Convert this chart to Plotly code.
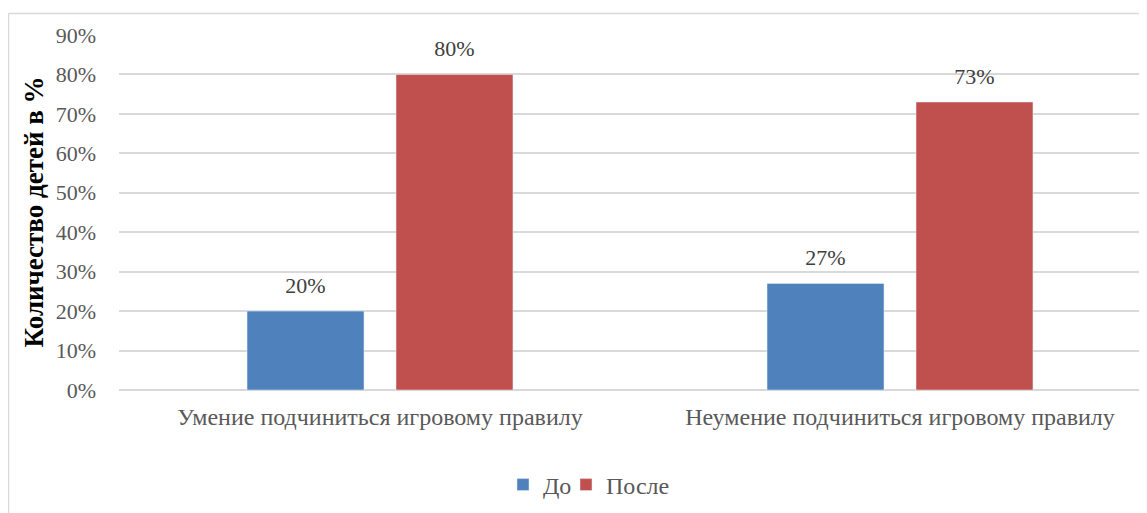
import plotly.graph_objects as go

categories = ["Умение подчиниться игровому правилу", "Неумение подчиниться игровому правилу"]
before = [20, 27]
after = [80, 73]
series_names = ["До", "После"]
tick_vals = [0, 10, 20, 30, 40, 50, 60, 70, 80, 90]
tick_text = [f"{v}%" for v in tick_vals]

# page has an 8px body margin: screen px = figure px + 8
OFF = 8
W, H = 1147, 513
ml = 119 - OFF
mt = 35 - OFF
mb = H - (390 - OFF)
mr = 0
pw, ph = W - ml - mr, H - mt - mb

def px2x(sx):
    return (sx - OFF - ml) / pw

def px2y(sy):
    return ((H - mb) - (sy - OFF)) / ph

unit = 900 - 380
x_lo = -0.5 - (380 - 119 - 0.5 * unit) / unit
x_hi = (W + OFF - 380) / unit

font_family = "Liberation Serif, Times New Roman, serif"
colors = ["#4F81BD", "#C0504D"]
legend_ids = ["legend", "legend2"]
BARGAP = 0.427

fig = go.Figure()
for name, vals, col, lg in zip(series_names, [before, after], colors, legend_ids):
    fig.add_trace(go.Bar(x=categories, y=vals, name=name, marker_color=col, hoverinfo="skip", legend=lg))
for name, vals in zip(series_names, [before, after]):
    fig.add_trace(go.Scatter(x=categories, y=vals, mode="markers+text", showlegend=False,
                             text=[f"{v}%" for v in vals], textposition="top center",
                             marker=dict(size=18.5, color="rgba(0,0,0,0)"),
                             textfont=dict(size=22, color="#404040", family=font_family),
                             cliponaxis=False, hoverinfo="skip"))

legend_common = dict(orientation="h", xanchor="left", y=px2y(485), yanchor="middle",
                     font=dict(size=24, color="#595959"), itemwidth=30, bgcolor="rgba(0,0,0,0)")

fig.update_layout(
    width=W, height=H,
    margin=dict(l=ml, r=mr, t=mt, b=mb, autoexpand=False),
    paper_bgcolor="white", plot_bgcolor="white",
    font=dict(family=font_family, size=22, color="#595959"),
    barmode="group", bargap=BARGAP, bargroupgap=0.215,
    scattermode="group", scattergap=BARGAP,
    showlegend=True,
    legend=dict(x=px2x(503), **legend_common),
    legend2=dict(x=px2x(566), **legend_common),
    xaxis=dict(range=[x_lo, x_hi], showgrid=False, showline=False, ticks="",
               tickfont=dict(size=24, color="#595959"), ticklabelstandoff=10),
    yaxis=dict(range=[0, 90], tickvals=tick_vals, ticktext=tick_text, showgrid=True,
               gridcolor="#D9D9D9", gridwidth=1.5, zeroline=True, zerolinecolor="#D9D9D9",
               zerolinewidth=1.5, showline=False, ticks="",
               tickfont=dict(size=22, color="#595959"), ticklabelstandoff=22),
    annotations=[dict(text="<b>Количество детей в %</b>", x=px2x(33), y=0.5, xref="paper", yref="paper",
                      textangle=-90, showarrow=False, font=dict(size=27, color="black", family=font_family),
                      xanchor="center", yanchor="middle")],
    shapes=[
        dict(type="line", xref="paper", yref="paper", x0=px2x(8.5), x1=px2x(8.5), y0=px2y(13.5), y1=px2y(530),
             line=dict(color="#D9D9D9", width=1.5)),
        dict(type="line", xref="paper", yref="paper", x0=px2x(8.5), x1=px2x(1170), y0=px2y(13.5), y1=px2y(13.5),
             line=dict(color="#D9D9D9", width=1.5)),
    ],
)

fig.write_html("out.html")
